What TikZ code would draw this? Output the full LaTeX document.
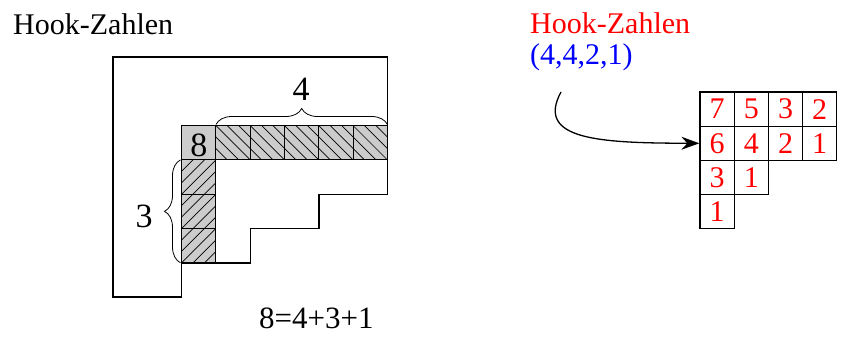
\documentclass[tikz,border=0pt]{standalone}
\usepackage{fontspec}
\setmainfont{Liberation Serif}
\usetikzlibrary{arrows.meta,decorations.pathreplacing}
\begin{document}
\begin{tikzpicture}[x=1pt,y=-1pt,
  frame/.style={line width=1.4pt, line join=miter},
  cellline/.style={line width=1.1pt},
  hatchline/.style={line width=0.7pt},
  bracestyle/.style={decorate, decoration={brace, amplitude=16pt}, line width=0.8pt},
  gridcell/.style={draw, line width=1.3pt, minimum size=34.2pt, inner sep=0pt, text=red, font=\fontsize{30}{30}\selectfont},
  bigtxt/.style={font=\fontsize{30}{30}\selectfont, inner sep=0pt},
  numtxt/.style={font=\fontsize{34}{34}\selectfont, inner sep=0pt},
  bigarrow/.style={line width=1.3pt, arrows={-Stealth[length=18pt, width=13pt, inset=6pt]}}]
\useasboundingbox (0,0) rectangle (843,345);
\def\cs{34.3}
% titles
\node[bigtxt, anchor=base west] (t1) at (13,35) {Hook-Zahlen};
\node[bigtxt, anchor=base west, text=red] (t2) at (530,34) {Hook-Zahlen};
\node[bigtxt, anchor=base west, text=blue] (t3) at (530,65) {(4,4,2,1)};
% hook corner cell
\fill[gray!40] (181.6,125.6) rectangle ++(\cs,\cs);
\draw[cellline] (181.6,125.6) rectangle ++(\cs,\cs);
\node[numtxt, anchor=base] (eight) at (198.8,156) {8};
% arm cells
\foreach \i in {1,...,5} {
  \pgfmathsetmacro\xa{181.6+\i*34.3}
  \fill[gray!40] (\xa,125.6) rectangle ++(\cs,\cs);
  \begin{scope}
    \clip (\xa,125.6) rectangle ++(\cs,\cs);
    \foreach \k in {-2,...,2} \draw[hatchline] (\xa+\k*11.43,125.6) -- ++(\cs,\cs);
  \end{scope}
  \draw[cellline] (\xa,125.6) rectangle ++(\cs,\cs);
}
% leg cells
\foreach \j in {1,...,3} {
  \pgfmathsetmacro\ya{125.6+\j*34.3}
  \fill[gray!40] (181.6,\ya) rectangle ++(\cs,\cs);
  \begin{scope}
    \clip (181.6,\ya) rectangle ++(\cs,\cs);
    \foreach \k in {-2,...,2} \draw[hatchline] (181.6+\k*11.43,\ya+\cs) -- ++(\cs,-\cs);
  \end{scope}
  \draw[cellline] (181.6,\ya) rectangle ++(\cs,\cs);
}
% outer frame
\draw[frame] (113,57) -- (387.4,57) -- (387.4,194.2) -- (318.8,194.2) -- (318.8,228.5)
  -- (250.2,228.5) -- (250.2,262.8) -- (181.6,262.8) -- (181.6,297.1) -- (113,297.1) -- cycle;
% braces
\draw[bracestyle] (216,124.5) -- (387.4,124.5);
\node[numtxt, anchor=base] (four) at (301,100) {4};
\draw[bracestyle] (180.5,262.8) -- (180.5,159.9);
\node[numtxt, anchor=base] (three) at (144,227) {3};
% equation
\node[font=\fontsize{31}{31}\selectfont, inner sep=0pt, anchor=base west] (eq) at (259,328) {8=4+3+1};
% right grid
\foreach \r/\c/\v in {1/1/7,1/2/5,1/3/3,1/4/2,2/1/6,2/2/4,2/3/2,2/4/1,3/1/3,3/2/1,4/1/1} {
  \node[gridcell] (g\r\c) at (700+17.1+34.2*\c-34.2, 92+17.1+34.2*\r-34.2) {\v};
}
% arrow
\coordinate (as) at (561,92);
\draw[bigarrow] (as) .. controls (535,140) and (600,143) .. (g21.west);
\end{tikzpicture}
\end{document}
